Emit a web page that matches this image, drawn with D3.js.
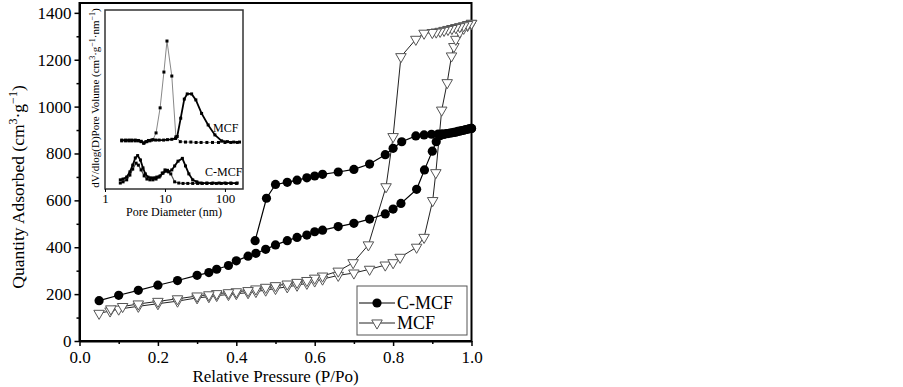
<!DOCTYPE html>
<html>
<head>
<meta charset="utf-8">
<script src="https://cdn.jsdelivr.net/npm/d3@7"></script>
<style>
  body { margin: 0; background: #fff; }
  svg { display: block; font-family: 'Liberation Serif', 'Times New Roman', serif; }
</style>
</head>
<body>
<svg id="chart" width="903" height="387"></svg>
<script>
// --- isotherm data (relative pressure, quantity adsorbed) ---
const cmcfAdsP = [0.05, 0.10, 0.15, 0.20, 0.25, 0.30, 0.33, 0.35, 0.38, 0.40, 0.43, 0.45, 0.475, 0.50, 0.53, 0.555, 0.58, 0.60, 0.62, 0.66, 0.70, 0.74, 0.78, 0.80, 0.82, 0.86, 0.88, 0.90, 0.91, 0.92, 0.93, 0.94, 0.95, 0.96, 0.97, 0.98, 0.99, 1.0]
const cmcfAdsV = [172, 195, 216, 238, 258, 280, 292, 306, 322, 342, 362, 374, 391, 410, 428, 442, 452, 466, 473, 488, 502, 520, 542, 563, 587, 647, 730, 810, 850, 876, 881, 885, 888, 891, 895, 899, 903, 907]
const cmcfDesP = [1.0, 0.995, 0.985, 0.975, 0.965, 0.955, 0.945, 0.935, 0.925, 0.915, 0.898, 0.879, 0.858, 0.822, 0.80, 0.78, 0.74, 0.70, 0.66, 0.62, 0.60, 0.58, 0.555, 0.53, 0.50, 0.477, 0.448]
const cmcfDesV = [907, 906, 902, 898, 894, 890, 887, 885, 884, 883, 882, 879, 875, 850, 822, 795, 755, 732, 721, 711, 704, 696, 686, 677, 668, 609, 428]

const mcfAdsP = [0.05, 0.078, 0.10, 0.15, 0.20, 0.25, 0.30, 0.33, 0.35, 0.38, 0.40, 0.43, 0.45, 0.475, 0.50, 0.53, 0.555, 0.58, 0.60, 0.62, 0.66, 0.70, 0.74, 0.78, 0.80, 0.818, 0.86, 0.879, 0.901, 0.909, 0.924, 0.938, 0.949, 0.955, 0.96, 0.97, 0.98, 0.99, 1.0]
const mcfAdsV = [118, 128, 136, 148, 159, 170, 184, 189, 194, 198, 202, 206, 211, 217, 224, 231, 238, 246, 256, 264, 280, 290, 306, 324, 334, 357, 400, 442, 599, 718, 985, 1102, 1216, 1256, 1287, 1318, 1334, 1346, 1355]
const mcfDesP = [1.0, 0.99, 0.98, 0.97, 0.96, 0.95, 0.94, 0.93, 0.92, 0.91, 0.90, 0.879, 0.858, 0.82, 0.80, 0.782, 0.737, 0.698, 0.66, 0.62, 0.60, 0.58, 0.555, 0.53, 0.50, 0.475, 0.45, 0.43, 0.40, 0.38, 0.35, 0.33, 0.30, 0.25, 0.20, 0.15, 0.11, 0.08]
const mcfDesV = [1355, 1350, 1345, 1341, 1337, 1333, 1329, 1325, 1321, 1318, 1316, 1313, 1287, 1213, 872, 658, 410, 334, 298, 277, 268, 258, 250, 243, 236, 229, 222, 215, 210, 206, 202, 197, 192, 180, 169, 158, 147, 137]

const xTicks = [0, 0.2, 0.4, 0.6, 0.8, 1.0]
const xMinor = [0.1, 0.3, 0.5, 0.7, 0.9]
const yTicks = [0, 200, 400, 600, 800, 1000, 1200, 1400]
const yMinor = [100, 300, 500, 700, 900, 1100, 1300]

// --- inset: pore size distribution (pore diameter nm, dV/dlog(D)) ---
const mcfPsdAD = [1.9, 2.2, 2.5, 2.8, 3.2, 3.6, 4.0, 4.4, 4.8, 5.3, 6.0, 7.0, 8.0, 9.5, 11, 13, 15, 16, 18.3, 21, 23.5, 27.8, 32.7, 40.8, 52.5, 68, 88, 110, 140, 175]
const mcfPsdAV = [1.23, 1.23, 1.23, 1.23, 1.23, 1.22, 1.20, 1.15, 1.19, 1.22, 1.23, 1.23, 1.23, 1.23, 1.24, 1.25, 1.27, 1.32, 1.78, 2.26, 2.39, 2.39, 2.24, 1.90, 1.61, 1.36, 1.21, 1.19, 1.18, 1.18]
const mcfPsdBD = [1.9, 2.2, 2.5, 2.8, 3.2, 3.6, 4.0, 4.5, 5.0, 5.6, 6.3, 7.1, 8.3, 9.6, 10.8, 13.0, 15.2, 18, 22, 27, 33, 40, 50, 62, 78, 100, 125, 160]
const mcfPsdBV = [1.21, 1.21, 1.21, 1.21, 1.21, 1.21, 1.19, 1.16, 1.19, 1.21, 1.24, 1.41, 2.04, 2.94, 3.72, 2.84, 1.31, 1.19, 1.18, 1.18, 1.17, 1.17, 1.17, 1.17, 1.17, 1.17, 1.17, 1.17]
const cmcfPsdAD = [1.8, 2.0, 2.3, 2.6, 2.9, 3.2, 3.5, 3.9, 4.3, 4.7, 5.2, 5.8, 6.5, 7.3, 8.3, 9.3, 10.4, 11.5, 13, 14.5, 16.5, 19.5, 22, 25, 29, 34, 40, 50, 63, 80, 100, 125, 160]
const cmcfPsdAV = [0.23, 0.25, 0.30, 0.43, 0.60, 0.78, 0.84, 0.73, 0.53, 0.38, 0.30, 0.28, 0.28, 0.30, 0.33, 0.40, 0.45, 0.43, 0.48, 0.58, 0.70, 0.77, 0.58, 0.38, 0.23, 0.18, 0.15, 0.15, 0.15, 0.15, 0.15, 0.15, 0.15]
const cmcfPsdBD = [1.8, 2.0, 2.3, 2.6, 2.9, 3.3, 3.6, 4.0, 4.5, 5.0, 5.6, 6.3, 7.1, 8.0, 9.0, 10, 11, 12.5, 14.5, 17, 20, 24, 29, 35, 42, 50, 60, 72, 87, 105, 127, 155]
const cmcfPsdBV = [0.15, 0.18, 0.23, 0.35, 0.50, 0.65, 0.60, 0.48, 0.33, 0.25, 0.23, 0.23, 0.25, 0.30, 0.40, 0.48, 0.47, 0.38, 0.18, 0.15, 0.14, 0.14, 0.14, 0.14, 0.14, 0.14, 0.14, 0.14, 0.14, 0.14, 0.14, 0.14]
const insetTicks = [1, 10, 100]

const svg = d3.select('#chart')
svg.append('rect').attr('width', 903).attr('height', 387).attr('fill', '#fff')

const x = d3.scaleLinear().domain([0, 1]).range([79.5, 471.5])
const y = d3.scaleLinear().domain([0, 1442]).range([341, 3])

// frame
svg.append('rect')
  .attr('x', x(0)).attr('y', y(1442))
  .attr('width', x(1) - x(0)).attr('height', y(0) - y(1442))
  .attr('fill', 'none').attr('stroke', '#000').attr('stroke-width', 2)

// axes
svg.append('g')
  .attr('transform', `translate(0,${y(0)})`)
  .call(d3.axisBottom(x).tickValues(xTicks).tickFormat(d3.format('.1f')).tickSizeInner(5).tickSizeOuter(0).tickPadding(5))
svg.append('g')
  .attr('transform', `translate(0,${y(0)})`)
  .call(d3.axisBottom(x).tickValues(xMinor).tickFormat('').tickSize(3))
  .select('.domain').remove()

svg.append('g')
  .attr('transform', `translate(${x(0)},0)`)
  .call(d3.axisLeft(y).tickValues(yTicks).tickFormat(d3.format('d')).tickSizeInner(5).tickSizeOuter(0).tickPadding(3))
svg.append('g')
  .attr('transform', `translate(${x(0)},0)`)
  .call(d3.axisLeft(y).tickValues(yMinor).tickFormat('').tickSize(3))
  .select('.domain').remove()

svg.selectAll('.tick line').attr('stroke', '#000').attr('stroke-width', 1.5)
svg.selectAll('.domain').attr('stroke', '#000').attr('stroke-width', 2)
svg.selectAll('.tick text').attr('font-family', 'Liberation Serif, serif').attr('font-size', 17).attr('fill', '#000')

// axis titles
svg.append('text')
  .attr('x', (x(0) + x(1)) / 2).attr('y', 382)
  .attr('text-anchor', 'middle').attr('font-size', 17)
  .text('Relative Pressure (P/Po)')

const yTitle = svg.append('text')
  .attr('transform', 'translate(24,187) rotate(-90)')
  .attr('text-anchor', 'middle').attr('font-size', 17.5)
yTitle.append('tspan').text('Quantity Adsorbed (cm')
yTitle.append('tspan').attr('baseline-shift', 'super').attr('font-size', 12).text('3')
yTitle.append('tspan').text('·g')
yTitle.append('tspan').attr('baseline-shift', 'super').attr('font-size', 12).text('−1')
yTitle.append('tspan').text(')')

// series
const line = d3.line().x(d => x(d[0])).y(d => y(d[1]))
const mcfAds = d3.zip(mcfAdsP, mcfAdsV)
const mcfDes = d3.zip(mcfDesP, mcfDesV)
const cmcfAds = d3.zip(cmcfAdsP, cmcfAdsV)
const cmcfDes = d3.zip(cmcfDesP, cmcfDesV)

const tri = d3.symbol().type(d3.symbolTriangle).size(48)

;[mcfAds, mcfDes].forEach(s => {
  svg.append('path').datum(s).attr('d', line)
    .attr('fill', 'none').attr('stroke', '#222').attr('stroke-width', 1)
})
;[mcfAds, mcfDes].forEach(s => {
  svg.append('g').selectAll('path').data(s).join('path')
    .attr('d', tri)
    .attr('transform', d => `translate(${x(d[0])},${y(d[1])}) rotate(180)`)
    .attr('fill', '#fff').attr('stroke', '#555').attr('stroke-width', 1)
})

;[cmcfAds, cmcfDes].forEach(s => {
  svg.append('path').datum(s).attr('d', line)
    .attr('fill', 'none').attr('stroke', '#000').attr('stroke-width', 1.2)
})
;[cmcfAds, cmcfDes].forEach(s => {
  svg.append('g').selectAll('circle').data(s).join('circle')
    .attr('cx', d => x(d[0])).attr('cy', d => y(d[1])).attr('r', 4.6)
    .attr('fill', '#000')
})

// legend
const lg = svg.append('g')
lg.append('rect').attr('x', 357).attr('y', 286).attr('width', 110).attr('height', 49)
  .attr('fill', '#fff').attr('stroke', '#555').attr('stroke-width', 1)
lg.append('line').attr('x1', 359).attr('x2', 395).attr('y1', 303).attr('y2', 303).attr('stroke', '#000').attr('stroke-width', 1.2)
lg.append('circle').attr('cx', 377).attr('cy', 303).attr('r', 4.6).attr('fill', '#000')
lg.append('text').attr('x', 397).attr('y', 309).attr('font-size', 18).text('C-MCF')
lg.append('line').attr('x1', 359).attr('x2', 395).attr('y1', 323).attr('y2', 323).attr('stroke', '#222').attr('stroke-width', 1)
lg.append('path').attr('d', tri).attr('transform', 'translate(377,323) rotate(180)')
  .attr('fill', '#fff').attr('stroke', '#555')
lg.append('text').attr('x', 397).attr('y', 329).attr('font-size', 18).text('MCF')

// --- inset ---
const ix = d3.scaleLog().domain([1, 200]).range([105, 243])
const iy = d3.scaleLinear().domain([0, 4.5]).range([189, 10])
const inset = svg.append('g')

inset.append('rect').attr('x', ix(1)).attr('y', iy(4.5))
  .attr('width', ix(200) - ix(1)).attr('height', iy(0) - iy(4.5))
  .attr('fill', '#fff').attr('stroke', '#333').attr('stroke-width', 1.5)

const ixAxis = inset.append('g')
  .attr('transform', `translate(0,${iy(0)})`)
  .call(d3.axisBottom(ix).tickValues(insetTicks).tickFormat(d3.format('d')).tickSizeInner(3).tickSizeOuter(0).tickPadding(2))
ixAxis.select('.domain').remove()
ixAxis.selectAll('text').attr('font-family', 'Liberation Serif, serif').attr('font-size', 13).attr('fill', '#000')

inset.append('text')
  .attr('x', (ix(1) + ix(200)) / 2).attr('y', 216)
  .attr('text-anchor', 'middle').attr('font-size', 12)
  .text('Pore Diameter (nm)')

const iyTitle = inset.append('text')
  .attr('transform', 'translate(99,98) rotate(-90)')
  .attr('text-anchor', 'middle').attr('font-size', 11)
iyTitle.append('tspan').text('dV/dlog(D)Pore Volume (cm')
iyTitle.append('tspan').attr('baseline-shift', 'super').attr('font-size', 8).text('3')
iyTitle.append('tspan').text('·g')
iyTitle.append('tspan').attr('baseline-shift', 'super').attr('font-size', 8).text('−1')
iyTitle.append('tspan').text('·nm')
iyTitle.append('tspan').attr('baseline-shift', 'super').attr('font-size', 8).text('−1')
iyTitle.append('tspan').text(')')

const iline = d3.line().x(d => ix(d[0])).y(d => iy(d[1]))
const psd = [
  { data: d3.zip(mcfPsdBD, mcfPsdBV), stroke: '#888', width: 1 },
  { data: d3.zip(mcfPsdAD, mcfPsdAV), stroke: '#000', width: 1.8 },
  { data: d3.zip(cmcfPsdBD, cmcfPsdBV), stroke: '#555', width: 1.2 },
  { data: d3.zip(cmcfPsdAD, cmcfPsdAV), stroke: '#000', width: 1.8 }
]
psd.forEach(s => {
  inset.append('path').datum(s.data).attr('d', iline)
    .attr('fill', 'none').attr('stroke', s.stroke).attr('stroke-width', s.width)
  inset.append('g').selectAll('rect').data(s.data).join('rect')
    .attr('x', d => ix(d[0]) - 1.5).attr('y', d => iy(d[1]) - 1.5)
    .attr('width', 3).attr('height', 3).attr('fill', '#000')
})

inset.append('text').attr('x', 213).attr('y', 132).attr('font-size', 12).text('MCF')
inset.append('text').attr('x', 205).attr('y', 176).attr('font-size', 12).text('C-MCF')
</script>
</body>
</html>
